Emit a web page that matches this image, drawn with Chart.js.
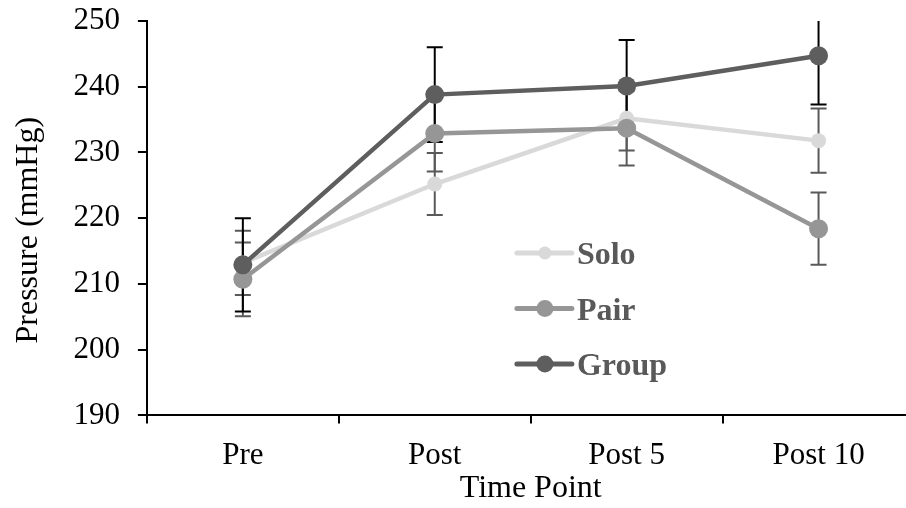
<!DOCTYPE html>
<html>
<head>
<meta charset="utf-8">
<script src="https://cdn.jsdelivr.net/npm/chart.js@4.4.1/dist/chart.umd.min.js"></script>
<style>
  body { margin: 0; overflow: hidden; background: #fff; }
  canvas { display: block; position: absolute; left: 0; top: 0; }
</style>
</head>
<body>
<canvas id="chart" width="924" height="508"></canvas>
<script>
// DATA
let timePoints = ["Pre", "Post", "Post 5", "Post 10"];
let groups = ["Solo", "Pair", "Group"];

let soloMean = [213.2, 225.2, 235.2, 231.8];
let soloErr = [4.9, 4.7, 4.9, 4.9];

let pairMean = [210.7, 232.9, 233.7, 218.4];
let pairErr = [5.6, 5.8, 5.7, 5.5];

let groupMean = [212.9, 238.8, 240.1, 244.7];
let groupErr = [7.1, 7.2, 7.0, 7.4];

let yTicks = [190, 200, 210, 220, 230, 240, 250];

const serif = "'Liberation Serif', 'Times New Roman', serif";

// error bars, drawn under the lines
const errorBars = {
    id: "errorBars",
    beforeDatasetsDraw(chart) {
        const ctx = chart.ctx;
        const ca = chart.chartArea;
        const y = chart.scales.y;
        ctx.save();
        ctx.beginPath();
        ctx.rect(ca.left, ca.top, ca.right - ca.left, ca.bottom - ca.top);
        ctx.clip();
        chart.data.datasets.forEach((ds, i) => {
            const meta = chart.getDatasetMeta(i);
            ctx.strokeStyle = ds.errorColor;
            ctx.lineWidth = 2;
            meta.data.forEach((pt, j) => {
                const top = y.getPixelForValue(ds.data[j] + ds.errors[j]);
                const bot = y.getPixelForValue(ds.data[j] - ds.errors[j]);
                ctx.beginPath();
                ctx.moveTo(pt.x, top);
                ctx.lineTo(pt.x, bot);
                ctx.moveTo(pt.x - 8, top);
                ctx.lineTo(pt.x + 8, top);
                ctx.moveTo(pt.x - 8, bot);
                ctx.lineTo(pt.x + 8, bot);
                ctx.stroke();
            });
        });
        ctx.restore();
    }
};

// legend inside the plot area
const innerLegend = {
    id: "innerLegend",
    afterDraw(chart) {
        const ctx = chart.ctx;
        const ca = chart.chartArea;
        const x0 = ca.left + 370;
        const y0 = ca.top + 232;
        ctx.save();
        chart.data.datasets.forEach((ds, i) => {
            const yy = y0 + i * 55.5;
            ctx.strokeStyle = ds.borderColor;
            ctx.lineWidth = 5;
            ctx.lineCap = "round";
            ctx.beginPath();
            ctx.moveTo(x0, yy);
            ctx.lineTo(x0 + 55, yy);
            ctx.stroke();
            ctx.fillStyle = ds.backgroundColor;
            ctx.beginPath();
            ctx.arc(x0 + 28, yy, ds.pointRadius - 1, 0, Math.PI * 2);
            ctx.fill();
            ctx.fillStyle = "#595959";
            ctx.font = "bold 32px " + serif;
            ctx.textBaseline = "middle";
            ctx.fillText(ds.label, x0 + 60, yy + 3);
        });
        ctx.restore();
    }
};

new Chart("chart", {
    type: "line",
    data: {
        labels: timePoints,
        datasets: [
            {
                label: groups[0],
                data: soloMean,
                errors: soloErr,
                errorColor: "#595959",
                borderColor: "#d9d9d9",
                backgroundColor: "#d9d9d9",
                borderWidth: 4.5,
                pointRadius: 7.5,
                pointBorderWidth: 0,
                order: 3,
            },
            {
                label: groups[1],
                data: pairMean,
                errors: pairErr,
                errorColor: "#595959",
                borderColor: "#969696",
                backgroundColor: "#969696",
                borderWidth: 4.5,
                pointRadius: 9.5,
                pointBorderWidth: 0,
                order: 2,
            },
            {
                label: groups[2],
                data: groupMean,
                errors: groupErr,
                errorColor: "#000000",
                borderColor: "#5e5e5e",
                backgroundColor: "#5e5e5e",
                borderWidth: 4.5,
                pointRadius: 9.5,
                pointBorderWidth: 0,
                order: 1,
            },
        ],
    },
    options: {
        responsive: false,
        animation: false,
        devicePixelRatio: 1,
        // canvas is wider than the window: the plot runs past the right edge, as in the original
        layout: { padding: { left: 9, top: 21, right: 0, bottom: 0 } },
        plugins: {
            legend: { display: false },
            tooltip: { enabled: false },
        },
        scales: {
            x: {
                offset: true,
                afterFit(axis) {
                    axis.paddingLeft = 0;
                    axis.paddingRight = 0;
                },
                grid: {
                    offset: true,
                    drawOnChartArea: false,
                    color: "#000",
                    lineWidth: 2,
                    tickLength: 8,
                },
                border: { color: "#000", width: 2 },
                ticks: {
                    color: "#000",
                    padding: 14,
                    font: { family: serif, size: 31 },
                },
                title: {
                    display: true,
                    text: "Time Point",
                    color: "#000",
                    padding: { top: -19, bottom: 0 },
                    font: { family: serif, size: 32 },
                },
            },
            y: {
                min: 190,
                max: 250,
                afterBuildTicks(axis) {
                    axis.ticks = yTicks.map(v => ({ value: v }));
                },
                afterFit(axis) {
                    // let the top tick label overhang instead of pushing the plot down
                    axis.paddingTop = 0;
                    axis.paddingBottom = 0;
                },
                grid: {
                    drawOnChartArea: false,
                    color: "#000",
                    lineWidth: 2,
                    tickLength: 9,
                },
                border: { color: "#000", width: 2 },
                ticks: {
                    color: "#000",
                    padding: 18,
                    font: { family: serif, size: 31 },
                },
                title: {
                    display: true,
                    text: "Pressure (mmHg)   ",
                    color: "#000",
                    padding: { top: 0, bottom: 8 },
                    font: { family: serif, size: 32 },
                },
            },
        },
    },
    plugins: [errorBars, innerLegend],
});
</script>
</body>
</html>
